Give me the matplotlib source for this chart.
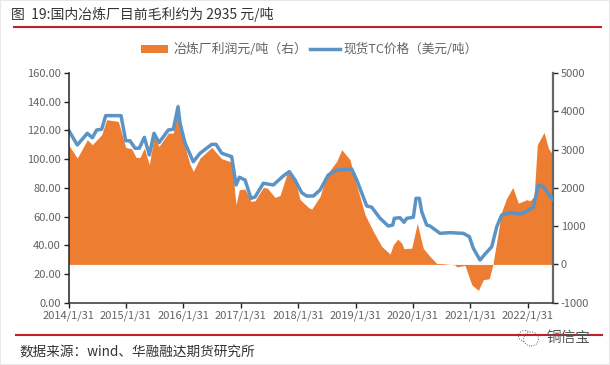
# -*- coding: utf-8 -*-
import matplotlib
matplotlib.use('Agg')
import matplotlib.pyplot as plt
from matplotlib.patches import Rectangle, Ellipse
from matplotlib.lines import Line2D

plt.rcParams['font.family'] = ['Noto Sans CJK SC', 'DejaVu Sans']

# years since 2014/1/31
tc_t = [0, .153, .328, .415, .491, .578, .648, .915, .997, 1.071, 1.159, 1.233, 1.321, 1.408, 1.49,
        1.577, 1.739, 1.826, 1.908, 1.942, 2.03, 2.174, 2.291, 2.495, 2.57, 2.669, 2.843, 2.918, 2.976, 3.075,
        3.179, 3.249, 3.394, 3.568, 3.742, 3.847, 3.946, 4.063, 4.15, 4.265, 4.382, 4.526, 4.672, 4.934, 5.021,
        5.166, 5.195, 5.282, 5.427, 5.571, 5.648, 5.676, 5.775, 5.845, 5.892, 6.007, 6.054, 6.112, 6.153, 6.24,
        6.298, 6.472, 6.646, 6.878, 6.983, 7.052, 7.169, 7.256, 7.373, 7.46, 7.547, 7.692, 7.895, 8.098, 8.185,
        8.272, 8.401, 8.44]
tc_price = [120.3, 109.9, 118, 114.9, 120.3, 120.8, 130.3, 130.3, 112.8, 112.8, 107.6, 107.6, 115.2, 102.9, 118,
            111.5, 120.3, 120.8, 136.5, 125.2, 111.2, 98.2, 104.1, 110.3, 110.3, 104.1, 101.7, 82, 87.4, 85.5,
            72.7, 73.6, 83.2, 82, 88.3, 91.3, 85.5, 76.6, 74.3, 74.3, 78.5, 89, 92.4, 93.1, 85.5,
            70.4, 67.4, 66.5, 58.8, 53.4, 54.1, 58.8, 59.2, 56, 58.8, 59.5, 72.7, 72.7, 63.4, 54.1,
            53.4, 48.3, 48.8, 48.3, 46, 37.9, 29.7, 33.9, 39, 52.9, 61.1, 62.7, 61.8, 66.5, 82,
            80.8, 73.4, 72]

profit_t = [0, .153, .328, .415, .578, .665, .868, .997, 1.101, 1.176, 1.246, 1.321, 1.408, 1.49, 1.577,
            1.739, 1.826, 1.908, 2.0, 2.117, 2.174, 2.291, 2.495, 2.669, 2.843, 2.918, 2.976, 3.075, 3.179, 3.249,
            3.394, 3.463, 3.598, 3.685, 3.83, 3.946, 4.033, 4.178, 4.237, 4.382, 4.498, 4.672, 4.76, 4.904, 4.991,
            5.166, 5.31, 5.456, 5.601, 5.659, 5.735, 5.805, 5.845, 5.979, 6.077, 6.136, 6.181, 6.298, 6.414, 6.524,
            6.733, 6.763, 6.907, 7.024, 7.139, 7.226, 7.33, 7.39, 7.547, 7.634, 7.739, 7.836, 7.913, 7.983, 8.04,
            8.11, 8.167, 8.284, 8.359, 8.418, 8.44]
profit = [3127, 2777, 3257, 3127, 3388, 3780, 3735, 3056, 3022, 2795, 2795, 3038, 2604, 3343, 3082,
          3430, 3430, 4213, 3213, 2612, 2429, 2777, 3056, 2761, 2672, 1559, 1951, 1967, 1646, 1664,
          2011, 1993, 1750, 1802, 2474, 2212, 1698, 1489, 1444, 1776, 2343, 2690, 2996, 2735, 2212,
          1298, 862, 470, 269, 515, 661, 556, 410, 426, 1079, 687, 418, 209, 26, 20,
          -13, -65, -26, -530, -679, -400, -373, -26, 1384, 1732, 2011, 1601, 1646, 1690, 1664,
          1776, 3127, 3448, 3038, 2907, 2935]

years = [0, 1, 2, 3, 4, 5, 6, 7, 8]
year_labels = ['2014/1/31', '2015/1/31', '2016/1/31', '2017/1/31', '2018/1/31',
               '2019/1/31', '2020/1/31', '2021/1/31', '2022/1/31']
left_ticks = [0, 20, 40, 60, 80, 100, 120, 140, 160]
right_ticks = [-1000, 0, 1000, 2000, 3000, 4000, 5000]

W, H = 610, 365
orange = '#ED7D31'
blue = '#5B93C4'
grey = '#636363'
red = '#C0202A'

fig = plt.figure(figsize=(W / 100, H / 100), dpi=100, facecolor='white')
ax = fig.add_axes([68.5 / W, 1 - 302.7 / H, (553 - 68.5) / W, (302.7 - 73) / H])
ax2 = ax.twinx()

ax2.fill_between(profit_t, profit, 0, color=orange, lw=0)
ax2.set_ylim(-1000, 5000)
ax2.set_yticks(right_ticks)
ax2.set_yticklabels([str(v) for v in right_ticks])

ax.plot(tc_t, tc_price, color=blue, lw=2.5, solid_joinstyle='round')
ax.set_xlim(0, 8.44)
ax.set_ylim(0, 160)
ax.set_yticks(left_ticks)
ax.set_yticklabels(['%.2f' % v for v in left_ticks])
ax.set_xticks(years)
ax.set_xticklabels(year_labels)
ax.set_zorder(ax2.get_zorder() + 1)
ax.patch.set_visible(False)

for a in (ax, ax2):
    a.spines['top'].set_visible(False)
    a.tick_params(labelsize=8, labelcolor=grey, length=3.5, width=1, pad=2, color='#222222')
ax.spines['right'].set_visible(False)
ax.spines['left'].set_color('#222222')
ax.spines['left'].set_linewidth(1.1)
ax.spines['bottom'].set_color('#333333')
ax.spines['bottom'].set_linewidth(1.1)
ax2.spines['left'].set_visible(False)
ax2.spines['bottom'].set_visible(False)
ax2.spines['right'].set_color('#666666')
ax2.spines['right'].set_linewidth(1.6)


def px(x, y):
    return x / W, 1 - y / H


# title and rules
fig.text(*px(11, 14.5), '图  19:国内冶炼厂目前毛利约为 2935 元/吨', fontsize=10, color='#333333', va='center')
fig.add_artist(Line2D([14 / W, 601 / W], [1 - 27 / H] * 2, color=red, lw=1.5))
fig.add_artist(Line2D([16 / W, 602 / W], [1 - 335 / H] * 2, color=red, lw=1.5))
fig.text(*px(19, 352), '数据来源：wind、华融融达期货研究所', fontsize=9.8, color='#333333', va='center',
         fontweight='medium')

# legend
fig.add_artist(Rectangle(px(141, 53), 27 / W, 8 / H, transform=fig.transFigure, color=orange, lw=0))
fig.text(*px(173, 49.5), '冶炼厂利润元/吨（右）', fontsize=9.3, color=grey, va='center')
fig.add_artist(Line2D([310 / W, 340 / W], [1 - 49 / H] * 2, color=blue, lw=2.5))
fig.text(*px(343, 49.5), '现货TC价格（美元/吨）', fontsize=9.1, color=grey, va='center')

# watermark
for cx, cy, ew, eh in ((525, 336, 13, 11), (531, 339, 15, 14)):
    fig.add_artist(Ellipse(px(cx, cy), ew / W, eh / H, transform=fig.transFigure, fc='white',
                           ec='#555555', lw=0.7, ls=':'))
fig.text(*px(547, 338), '铜信宝', fontsize=10.5, color='#555555', va='center')

# picture edge
fig.add_artist(Rectangle((0, 0), 1, 1, transform=fig.transFigure, fill=False, ec='#E8E8E8', lw=1.5))

fig.savefig('out.png', dpi=100)
